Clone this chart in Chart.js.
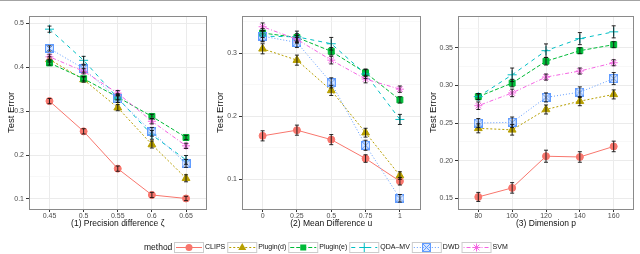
<!DOCTYPE html>
<html>
<head>
<meta charset="utf-8">
<script src="https://cdn.jsdelivr.net/npm/chart.js@4.4.1/dist/chart.umd.min.js"></script>
<style>
  body { margin: 0; width: 640px; height: 254px; background: #fff; overflow: hidden; position: relative; }
  #topline { position: absolute; left: 0; top: 0; width: 640px; height: 1px; background: #a3a3a3; }
  canvas { position: absolute; top: 0; }
</style>
</head>
<body>
<div id="topline"></div>
<canvas id="c1" width="212" height="232" style="left:0"></canvas>
<canvas id="c2" width="214" height="232" style="left:212px"></canvas>
<canvas id="c3" width="214" height="232" style="left:426px"></canvas>
<canvas id="leg" width="640" height="20" style="top:237px;left:0"></canvas>
<script>
// methods and look
const methods = ['CLIPS', 'Plugin(d)', 'Plugin(e)', 'QDA\u2013MV', 'DWD', 'SVM'];
const colors = ['#F8766D', '#B79F00', '#00BA38', '#00BFC4', '#619CFF', '#F564E3'];
const dashes = [[], [2, 2], [4, 2], [4, 4], [1, 2], [1, 2, 4, 2]];

// (1) precision difference
const zeta = [0.45, 0.5, 0.55, 0.6, 0.65];
const clips1 = [0.323, 0.254, 0.169, 0.109, 0.101];
const plugd1 = [0.418, 0.372, 0.308, 0.224, 0.147];
const pluge1 = [0.410, 0.374, 0.332, 0.288, 0.240];
const qda1   = [0.487, 0.416, 0.330, 0.246, 0.189];
const dwd1   = [0.443, 0.397, 0.328, 0.253, 0.181];
const svm1   = [0.424, 0.391, 0.341, 0.277, 0.221];
const clips1Err = [0.006, 0.006, 0.006, 0.006, 0.005];
const plugd1Err = [0.006, 0.006, 0.007, 0.008, 0.008];
const pluge1Err = [0.005, 0.005, 0.006, 0.005, 0.005];
const qda1Err   = [0.007, 0.009, 0.010, 0.010, 0.010];
const dwd1Err   = [0.006, 0.008, 0.008, 0.010, 0.009];
const svm1Err   = [0.006, 0.006, 0.006, 0.006, 0.006];

// (2) mean difference
const uVals = [0, 0.25, 0.5, 0.75, 1];
const clips2 = [0.169, 0.178, 0.163, 0.133, 0.097];
const plugd2 = [0.307, 0.289, 0.241, 0.174, 0.106];
const pluge2 = [0.332, 0.325, 0.303, 0.269, 0.226];
const qda2   = [0.327, 0.326, 0.315, 0.267, 0.195];
const dwd2   = [0.327, 0.317, 0.253, 0.154, 0.070];
const svm2   = [0.342, 0.322, 0.289, 0.259, 0.243];
const clips2Err = [0.008, 0.008, 0.008, 0.006, 0.006];
const plugd2Err = [0.008, 0.008, 0.008, 0.007, 0.006];
const pluge2Err = [0.007, 0.006, 0.006, 0.006, 0.005];
const qda2Err   = [0.009, 0.009, 0.010, 0.007, 0.008];
const dwd2Err   = [0.008, 0.008, 0.008, 0.008, 0.006];
const svm2Err   = [0.006, 0.006, 0.006, 0.006, 0.005];

// (3) dimension
const pVals = [80, 100, 120, 140, 160];
const clips3 = [0.152, 0.164, 0.206, 0.205, 0.219];
const plugd3 = [0.243, 0.241, 0.268, 0.279, 0.288];
const pluge3 = [0.285, 0.303, 0.332, 0.346, 0.354];
const qda3   = [0.285, 0.314, 0.346, 0.362, 0.371];
const dwd3   = [0.250, 0.251, 0.284, 0.291, 0.309];
const svm3   = [0.273, 0.290, 0.311, 0.319, 0.330];
const clips3Err = [0.006, 0.007, 0.008, 0.007, 0.007];
const plugd3Err = [0.006, 0.007, 0.006, 0.006, 0.006];
const pluge3Err = [0.004, 0.005, 0.005, 0.004, 0.004];
const qda3Err   = [0.004, 0.009, 0.009, 0.008, 0.008];
const dwd3Err   = [0.006, 0.007, 0.006, 0.007, 0.008];
const svm3Err   = [0.005, 0.005, 0.004, 0.004, 0.004];

// tick labels
const yTicks1 = [0.1, 0.2, 0.3, 0.4, 0.5];
const yMinor1 = [0.15, 0.25, 0.35, 0.45];
const yTicks2 = [0.1, 0.2, 0.3];
const yMinor2 = [0.15, 0.25, 0.35];
const yTicks3 = [0.15, 0.20, 0.25, 0.30, 0.35];
const yMinor3 = [0.175, 0.225, 0.275, 0.325, 0.375];

const FONT = '"Liberation Sans", Arial, sans-serif';

// DWD marker: square with a cross inside
function boxCross(size, col) {
  const c = document.createElement('canvas');
  c.width = size; c.height = size;
  const g = c.getContext('2d');
  g.fillStyle = 'rgba(97,156,255,0.25)';
  g.fillRect(0.5, 0.5, size - 1, size - 1);
  g.strokeStyle = col; g.lineWidth = 1;
  g.strokeRect(0.5, 0.5, size - 1, size - 1);
  g.beginPath();
  g.moveTo(1, 1); g.lineTo(size - 1, size - 1);
  g.moveTo(size - 1, 1); g.lineTo(1, size - 1);
  g.stroke();
  return c;
}
const dwdMark = boxCross(9, colors[4]);
const styles = ['circle', 'triangle', 'rect', 'cross', dwdMark, 'star'];
const radii = [3.5, 4.5, 4.2, 4.5, 4.5, 4];

const errorBars = {
  id: 'errorBars',
  afterDatasetsDraw(chart) {
    const ctx = chart.ctx, ys = chart.scales.y, a = chart.chartArea;
    ctx.save();
    ctx.strokeStyle = '#111';
    ctx.lineWidth = 0.9;
    chart.data.datasets.forEach((ds, i) => {
      chart.getDatasetMeta(i).data.forEach((pt, j) => {
        const v = ds.data[j].y, e = ds.errors[j];
        const y1 = ys.getPixelForValue(v - e), y2 = ys.getPixelForValue(v + e);
        ctx.beginPath();
        ctx.moveTo(pt.x, y1); ctx.lineTo(pt.x, y2);
        ctx.moveTo(pt.x - 2, y1); ctx.lineTo(pt.x + 2, y1);
        ctx.moveTo(pt.x - 2, y2); ctx.lineTo(pt.x + 2, y2);
        ctx.stroke();
      });
    });
    ctx.strokeStyle = '#8a8a8a';
    ctx.lineWidth = 1;
    ctx.strokeRect(Math.round(a.left) + 0.5, Math.round(a.top) + 0.5,
      Math.round(a.right - a.left) - 1, Math.round(a.bottom - a.top));
    ctx.restore();
  }
};

function makePanel(id, xs, series, errs, yMin, yMax, yMajor, yMinor, yDec, title, yW, padR, yTitlePad) {
  const span = xs[xs.length - 1] - xs[0];
  const datasets = series.map((vals, i) => ({
    label: methods[i],
    data: xs.map((x, j) => ({ x: x, y: vals[j] })),
    errors: errs[i],
    borderColor: colors[i],
    backgroundColor: colors[i],
    borderWidth: 1,
    borderDash: dashes[i],
    pointStyle: styles[i],
    pointRadius: radii[i],
    pointBackgroundColor: colors[i],
    pointBorderColor: colors[i],
    pointBorderWidth: 1,
    order: 10 - i,
    tension: 0
  }));
  new Chart(document.getElementById(id), {
    type: 'line',
    data: { datasets },
    plugins: [errorBars],
    options: {
      responsive: false,
      animation: false,
      layout: { padding: { top: 16, right: padR, left: 0, bottom: 0 } },
      plugins: { legend: { display: false }, tooltip: { enabled: false } },
      scales: {
        x: {
          type: 'linear',
          min: xs[0] - 0.15 * span,
          max: xs[xs.length - 1] + 0.15 * span,
          afterBuildTicks: s => { s.ticks = xs.map(v => ({ value: v })); },
          afterFit: s => { s.height = 23; },
          ticks: {
            autoSkip: false, maxRotation: 0, padding: 0,
            color: '#4d4d4d', font: { family: FONT, size: 7 },
            callback: v => String(v)
          },
          grid: { color: '#ebebeb', lineWidth: 1, tickColor: '#333', tickLength: 3 },
          border: { display: false },
          title: { display: true, text: title, color: '#111', font: { family: FONT, size: 8.5 }, padding: { top: 0, bottom: 3 } }
        },
        y: {
          min: yMin, max: yMax,
          afterBuildTicks: s => {
            s.ticks = yMajor.map(v => ({ value: v }))
              .concat(yMinor.filter(v => v > yMin && v < yMax).map(v => ({ value: v, minor: true })))
              .sort((a, b) => a.value - b.value);
          },
          afterFit: s => { s.width = yW; },
          ticks: {
            autoSkip: false, padding: 2,
            color: '#4d4d4d', font: { family: FONT, size: 7 },
            callback: function (v, i, t) { return t[i].minor ? '' : v.toFixed(yDec); }
          },
          grid: {
            color: c => (c.tick && c.tick.minor) ? '#f4f4f4' : '#ebebeb',
            lineWidth: c => (c.tick && c.tick.minor) ? 0.6 : 1,
            tickColor: c => (c.tick && c.tick.minor) ? 'rgba(0,0,0,0)' : '#333',
            tickLength: 3
          },
          border: { display: false },
          title: { display: true, text: 'Test Error', color: '#111', font: { family: FONT, size: 9.5 }, padding: { top: yTitlePad, bottom: 0 } }
        }
      }
    }
  });
}

makePanel('c1', zeta, [clips1, plugd1, pluge1, qda1, dwd1, svm1],
  [clips1Err, plugd1Err, pluge1Err, qda1Err, dwd1Err, svm1Err],
  0.077, 0.517, yTicks1, yMinor1, 1, '(1) Precision difference \u03B6', 29, 3, 6);
makePanel('c2', uVals, [clips2, plugd2, pluge2, qda2, dwd2, svm2],
  [clips2Err, plugd2Err, pluge2Err, qda2Err, dwd2Err, svm2Err],
  0.053, 0.359, yTicks2, yMinor2, 1, '(2) Mean Difference u', 30, 4, 2.5);
makePanel('c3', pVals, [clips3, plugd3, pluge3, qda3, dwd3, svm3],
  [clips3Err, plugd3Err, pluge3Err, qda3Err, dwd3Err, svm3Err],
  0.136, 0.392, yTicks3, yMinor3, 2, '(3) Dimension p', 32, 6, 1.5);

// legend at the bottom
function drawMark(g, i, x, y) {
  g.fillStyle = colors[i]; g.strokeStyle = colors[i]; g.lineWidth = 1; g.setLineDash([]);
  g.beginPath();
  if (i === 0) { g.arc(x, y, 3.5, 0, Math.PI * 2); g.fill(); }
  else if (i === 1) { g.moveTo(x, y - 4.5); g.lineTo(x + 4, y + 2.5); g.lineTo(x - 4, y + 2.5); g.closePath(); g.fill(); }
  else if (i === 2) { g.fillRect(x - 3, y - 3, 6, 6); }
  else if (i === 3) { g.moveTo(x - 4.5, y); g.lineTo(x + 4.5, y); g.moveTo(x, y - 4.5); g.lineTo(x, y + 4.5); g.stroke(); }
  else if (i === 4) { g.drawImage(dwdMark, Math.round(x - 4.5), Math.round(y - 4.5)); }
  else {
    for (let k = 0; k < 4; k++) {
      const ang = k * Math.PI / 4;
      g.moveTo(x - 4 * Math.cos(ang), y - 4 * Math.sin(ang));
      g.lineTo(x + 4 * Math.cos(ang), y + 4 * Math.sin(ang));
    }
    g.stroke();
  }
}
const lg = document.getElementById('leg').getContext('2d');
lg.textBaseline = 'middle';
lg.fillStyle = '#111';
lg.font = '8.5px ' + FONT;
lg.fillText('method', 144, 10.5);
let lx = 174;
methods.forEach((m, i) => {
  lg.setLineDash([]);
  lg.strokeStyle = '#cccccc'; lg.lineWidth = 1;
  lg.strokeRect(lx + 0.5, 5.5, 29, 10);
  lg.strokeStyle = colors[i];
  lg.setLineDash(dashes[i]);
  lg.beginPath(); lg.moveTo(lx + 2, 10.5); lg.lineTo(lx + 28, 10.5); lg.stroke();
  drawMark(lg, i, lx + 15, 10.5);
  lg.fillStyle = '#111';
  lg.font = '7px ' + FONT;
  lg.fillText(m, lx + 31, 10.5);
  lx += 31 + lg.measureText(m).width + 2;
});
</script>
</body>
</html>
